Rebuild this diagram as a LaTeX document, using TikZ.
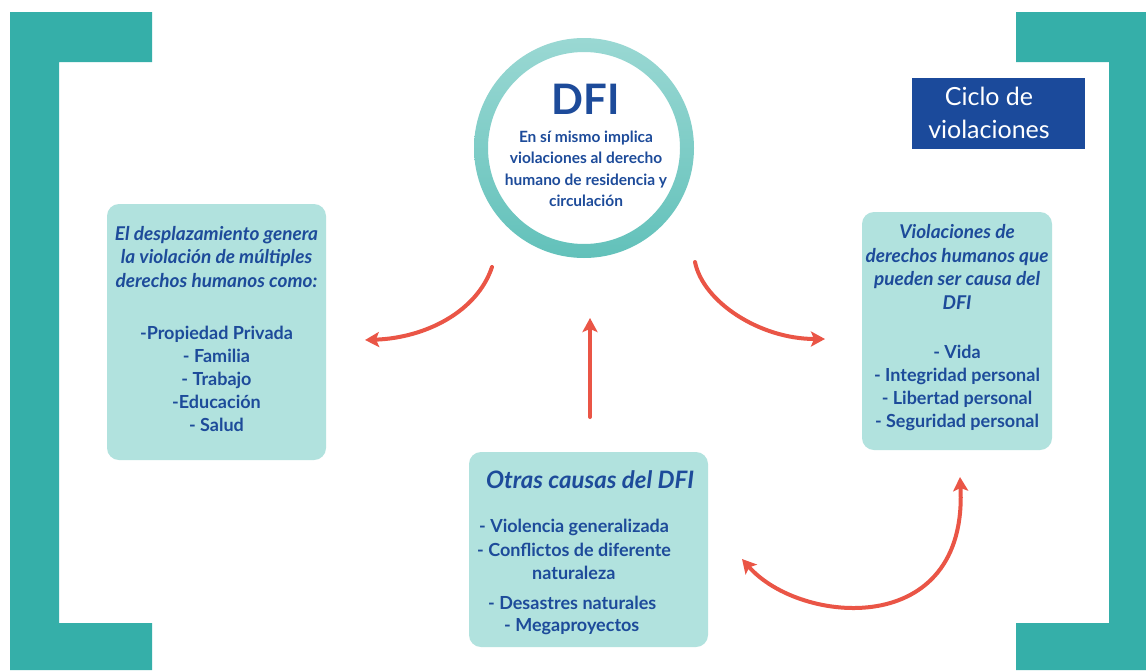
\documentclass[tikz,border=0pt]{standalone}
\usepackage{fontspec}
\setmainfont{Lato}
\usetikzlibrary{arrows.meta}
\definecolor{bracketc}{HTML}{35AFA9}
\definecolor{boxc}{HTML}{B1E2DE}
\definecolor{txtc}{HTML}{1D4B9A}
\definecolor{navyc}{HTML}{1B4A9B}
\definecolor{ringtop}{HTML}{9AD8D3}
\definecolor{ringbot}{HTML}{62C1BA}
\definecolor{arrowc}{HTML}{EA5546}
\tikzset{
  box/.style={fill=boxc, rounded corners=12pt, inner sep=0pt},
  bodytxt/.style={text=txtc, align=center, inner sep=0pt, font=\fontsize{18}{23}\selectfont\bfseries},
  headtxt/.style={text=txtc, align=center, inner sep=0pt, font=\fontsize{19}{23.5}\selectfont\bfseries\itshape},
  linetxt/.style={text=txtc, anchor=west, inner sep=0pt, font=\fontsize{18}{23}\selectfont\bfseries},
  redarrow/.style={draw=arrowc, line width=4pt, line cap=round, -{Stealth[length=14pt, width=15pt, inset=3pt]}},
}
\begin{document}
\begin{tikzpicture}[x=1pt,y=-1pt]
\useasboundingbox (0,0) rectangle (1146,670);
\fill[white] (0,0) rectangle (1146,670);
% brackets
\fill[bracketc] (10,12) -- (152,12) -- (152,62) -- (59,62) -- (59,623) -- (152,623) -- (152,670) -- (10,670) -- cycle;
\fill[bracketc] (1146,12) -- (1016,12) -- (1016,62) -- (1109,62) -- (1109,623) -- (1016,623) -- (1016,670) -- (1146,670) -- cycle;
% title
\node[fill=navyc, minimum width=173pt, minimum height=71pt, inner sep=0pt] (title) at (998.5,113.5) {};
\node[text=white, align=center, inner sep=0pt, font=\fontsize{25}{33}\selectfont] (titletxt) at (989,113) {Ciclo de\\violaciones};
% circle
\node[circle, fill=white, minimum size=220pt, inner sep=0pt] (dfi) at (584,148) {};
\shade[top color=ringtop, bottom color=ringbot, even odd rule] (dfi.center) circle[radius=110pt] circle[radius=96pt];
\node[text=txtc, inner sep=0pt, font=\fontsize{42}{42}\selectfont\bfseries] (dfititle) at (586,99) {DFI};
\node[text=txtc, align=center, inner sep=0pt, font=\fontsize{15.5}{21.5}\selectfont\bfseries] (dfitxt) at (586,169) {En sí mismo implica\\violaciones al derecho\\humano de residencia y\\circulación};
% left box
\node[box, minimum width=219pt, minimum height=256pt] (lbox) at (216.5,332) {};
\node[headtxt] (lhead) at (216.5,257) {El desplazamiento genera\\la violación de múltiples\\derechos humanos como:};
\node[bodytxt] (llist) at (216.5,379) {-Propiedad Privada\\- Familia\\- Trabajo\\-Educación\\- Salud};
% right box
\node[box, minimum width=190pt, minimum height=238pt] (rbox) at (957,331) {};
\node[headtxt] (rhead) at (957,267) {Violaciones de\\derechos humanos que\\pueden ser causa del\\DFI};
\node[bodytxt] (rlist) at (957,388) {- Vida\\- Integridad personal\\- Libertad personal\\- Seguridad personal};
% bottom box
\node[box, minimum width=239pt, minimum height=195pt] (bbox) at (588.5,549.5) {};
\node[text=txtc, inner sep=0pt, font=\fontsize{24}{28}\selectfont\bfseries\itshape] (bhead) at (590,480) {Otras causas del DFI};
\node[linetxt] (b1) at (479,527) {- Violencia generalizada};
\node[linetxt] (b2) at (477,550) {- Conflictos de diferente};
\node[linetxt] (b3) at (532,573) {naturaleza};
\node[linetxt] (b4) at (488,603) {- Desastres naturales};
\node[linetxt] (b5) at (504,627) {- Megaproyectos};
% arrows
\coordinate (la1) at (492,267);
\coordinate (la2) at (365,340);
\coordinate (ra1) at (695,262);
\coordinate (ra2) at (825,339);
\coordinate (ua1) at (590,417);
\coordinate (ua2) at (590,318);
\coordinate (da1) at (742,559);
\coordinate (da2) at (960,477);
\draw[redarrow] (la1) .. controls +(-15,45) and +(60,-2) .. (la2);
\draw[redarrow] (ra1) .. controls +(8,40) and +(-65,0) .. (ra2);
\draw[redarrow] (ua1) -- (ua2);
\draw[redarrow, {Stealth[length=14pt, width=15pt, inset=3pt]}-{Stealth[length=14pt, width=15pt, inset=3pt]}] (da1) .. controls +(58,66) and +(8,163) .. (da2);
\end{tikzpicture}
\end{document}
